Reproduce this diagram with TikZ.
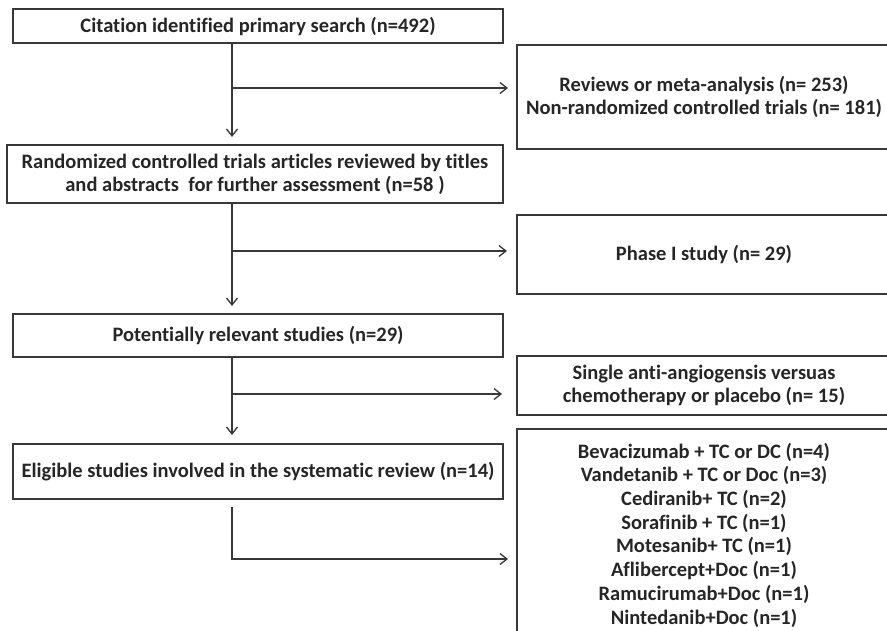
\documentclass[tikz,border=0pt]{standalone}
\usepackage{fontspec}
\setmainfont{Carlito}[Ligatures=NoCommon]
\usetikzlibrary{arrows.meta,calc}
\definecolor{ink}{HTML}{262626}
\definecolor{edge}{HTML}{383838}
\tikzset{
  flowbox/.style={draw=edge, line width=1.8pt, inner sep=0pt, outer sep=0pt,
    text=ink, align=center, font=\bfseries\fontsize{20.5}{23}\selectfont},
  listbox/.style={flowbox, font=\bfseries\fontsize{20.5}{23.7}\selectfont},
  conn/.style={draw=edge, line width=1.4pt},
  arr/.style={conn, -{Straight Barb[length=7pt,width=11pt,line width=1.3pt]}}
}
\begin{document}
\begin{tikzpicture}[x=1pt,y=-1pt]
\useasboundingbox (0,0) rectangle (887,630);
\clip (0,0) rectangle (887,630);
\fill[white] (0,0) rectangle (887,630);
% left column
\node[flowbox, minimum width=490pt, minimum height=34pt] (b1) at (258,26)
  {Citation identified primary search (n=492)};
\node[flowbox, minimum width=496pt, minimum height=58pt] (b2) at (255,174)
  {Randomized controlled trials articles reviewed by titles\\and abstracts\ \ for further assessment (n=58 )};
\node[flowbox, minimum width=490pt, minimum height=43pt] (b3) at (258,335.5)
  {Potentially relevant studies (n=29)};
\node[flowbox, minimum width=490pt, minimum height=55pt] (b4) at (258,471.5)
  {Eligible studies involved in the systematic review (n=14)};
% right column
\node[flowbox, minimum width=374pt, minimum height=104pt] (r1) at (704,97)
  {Reviews or meta-analysis (n= 253)\\Non-randomized controlled trials (n= 181)};
\node[flowbox, minimum width=374pt, minimum height=79pt] (r2) at (704,254.5)
  {Phase I study (n= 29)};
\node[flowbox, minimum width=374pt, minimum height=59pt] (r3) at (704,385.5)
  {Single anti-angiogensis versuas\\chemotherapy or placebo (n= 15)};
\node[listbox, minimum width=374pt, minimum height=212pt] (r4) at (704,535)
  {Bevacizumab + TC or DC (n=4)\\Vandetanib + TC or Doc (n=3)\\Cediranib+ TC (n=2)\\Sorafinib + TC (n=1)\\Motesanib+ TC (n=1)\\Aflibercept+Doc (n=1)\\Ramucirumab+Doc (n=1)\\Nintedanib+Doc (n=1)};
% junction points
\coordinate (j1) at (232,88);
\coordinate (j2) at (232,251);
\coordinate (j3) at (232,394);
\coordinate (s4) at (232,507);
\coordinate (j4) at (232,559);
% main flow
\draw[arr, shorten >=8pt] (j1 |- b1.south) -- (j1 |- b2.north);
\draw[arr, shorten >=8pt] (j2 |- b2.south) -- (j2 |- b3.north);
\draw[arr, shorten >=9pt] (j3 |- b3.south) -- (j3 |- b4.north);
% side branches
\draw[arr, shorten >=9pt] (j1) -- (j1 -| r1.west);
\draw[arr, shorten >=10pt] (j2) -- (j2 -| r2.west);
\draw[arr, shorten >=15pt] (j3) -- (j3 -| r3.west);
\draw[arr, shorten >=9pt] (s4) -- (j4) -- (j4 -| r4.west);
\end{tikzpicture}
\end{document}
